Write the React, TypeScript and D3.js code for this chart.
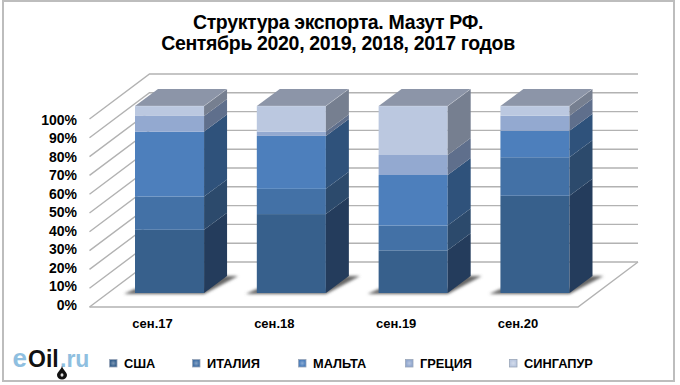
import React from "react";
import * as d3 from "d3";

const categories = ["сен.17", "сен.18", "сен.19", "сен.20"];
const seriesNames = ["США", "ИТАЛИЯ", "МАЛЬТА", "ГРЕЦИЯ", "СИНГАПУР"];
const usa = [33.8, 42.2, 22.8, 52];
const italy = [17.8, 13.5, 13.3, 20.6];
const malta = [34.7, 28.3, 27, 14.2];
const greece = [8.4, 2.3, 10.7, 8];
const singapore = [5.3, 13.7, 26.2, 5.2];
const ticks = [0, 10, 20, 30, 40, 50, 60, 70, 80, 90, 100];
const titleLines = ["Структура экспорта. Мазут РФ.", "Сентябрь 2020, 2019, 2018, 2017 годов"];

const frontColors = ["#37608c", "#4371a6", "#4d7fbc", "#93a9d0", "#bbc8e0"];
const sideColors = ["#243c5c", "#2c4a6c", "#2f527b", "#5f6f8c", "#767f90"];
const topColor = "#8c95a8";
const gridColor = "#b2b2b2";
const font = "'Liberation Sans', Arial, sans-serif";

const values = [usa, italy, malta, greece, singapore];
const rows = categories.map((c, i) => {
  const row: Record<string, number | string> = { cat: c };
  seriesNames.forEach((s, j) => (row[s] = values[j][i]));
  return row;
});
const stacked = d3.stack<any>().keys(seriesNames)(rows as any);

const yAxis = d3.scaleLinear().domain([0, 100]).range([307, 119]);
const yLabel = d3.scaleLinear().domain([0, 100]).range([310, 124.5]);
const yBar = d3.scaleLinear().domain([0, 100]).range([293, 106]);
const x = d3.scaleBand().domain(categories).range([135, 569.5]).paddingInner(0.433).paddingOuter(0);
const floorDx = 60;
const floorDy = -45;
const barDx = 23;
const barDy = -17;
const xLeft = 89.5;
const xFrontRight = 578;
const labelShift = -17;

const legendX = [109, 192, 298, 405, 509];

export default function App() {
  const bw = x.bandwidth();
  return (
    <svg
      width={680}
      height={385}
      viewBox="0 0 680 385"
      style={{ position: "fixed", left: 0, top: 0, display: "block", background: "#fff" }}
      fontFamily={font}
    >
      <defs>
        <filter id="blur" x="-30%" y="-50%" width="160%" height="200%">
          <feGaussianBlur stdDeviation="1.5" />
        </filter>
        <radialGradient id="legendGlow">
          <stop offset="0%" stopColor="#fff" stopOpacity={0.35} />
          <stop offset="100%" stopColor="#fff" stopOpacity={0} />
        </radialGradient>
      </defs>
      <rect x={3} y={1} width={671} height={380} fill="#fff" stroke="#bdbdbd" strokeWidth={2} />

      {titleLines.map((t, i) => (
        <text key={t} x={338} y={29 + i * 20.5} textAnchor="middle" fontSize={19.5} fontWeight="bold" fill="#000" letterSpacing={-0.34}>
          {t}
        </text>
      ))}

      {/* floor */}
      <path
        d={`M${xLeft},${yAxis(0)}L${xFrontRight},${yAxis(0)}L${xFrontRight + floorDx},${yAxis(0) + floorDy}`}
        fill="none"
        stroke={gridColor}
        strokeWidth={1.4}
      />
      {ticks.map((t) => (
        <path
          key={t}
          d={`M${xLeft},${yAxis(t)}L${xLeft + floorDx},${yAxis(t) + floorDy}L${xFrontRight + floorDx},${yAxis(t) + floorDy}`}
          fill="none"
          stroke={gridColor}
          strokeWidth={1.4}
        />
      ))}
      {ticks.map((t) => (
        <text key={t} x={77} y={yLabel(t)} textAnchor="end" fontSize={14} fontWeight="bold" fill="#000">
          {t}%
        </text>
      ))}

      {/* bar shadows and category labels */}
      {categories.map((c) => {
        const bx = x(c)!;
        return (
          <g key={c}>
            <path
              d={`M${bx - 11},${yBar(0) + 1}L${bx + bw},${yBar(0) + 1}L${bx + bw + barDx + 11},${yBar(0) + barDy}L${bx + bw + barDx - 6},${yBar(0) + barDy}L${bx + bw},${yBar(0) - 4}L${bx},${yBar(0) - 4}Z`}
              fill="#666"
              filter="url(#blur)"
            />
            <text x={bx + bw / 2 + labelShift} y={328} textAnchor="middle" fontSize={13} fontWeight="bold" fill="#000">
              {c}
            </text>
          </g>
        );
      })}
      {stacked.map((layer, j) => (
        <g key={layer.key}>
          {layer.map((d, i) => {
            const cat = categories[i];
            const bx = x(cat)!;
            const y0 = yBar(d[0]);
            const y1 = yBar(d[1]);
            return (
              <g key={cat}>
                <rect x={bx} y={y1} width={bw} height={y0 - y1} fill={frontColors[j]} />
                <path
                  d={`M${bx + bw},${y0}L${bx + bw + barDx},${y0 + barDy}L${bx + bw + barDx},${y1 + barDy}L${bx + bw},${y1}Z`}
                  fill={sideColors[j]}
                />
              </g>
            );
          })}
        </g>
      ))}
      {categories.map((c) => {
        const bx = x(c)!;
        const top = yBar(100);
        return (
          <g key={c}>
            <path
              d={`M${bx},${top}L${bx + barDx},${top + barDy}L${bx + bw + barDx},${top + barDy}L${bx + bw},${top}Z`}
              fill={topColor}
            />
            <path
              d={`M${bx},${top}L${bx + bw},${top}L${bx + bw + barDx},${top + barDy}`}
              fill="none"
              stroke="#fff"
              strokeOpacity={0.22}
              strokeWidth={1}
            />
          </g>
        );
      })}

      {/* legend */}
      {seriesNames.map((s, j) => (
        <g key={s}>
          <rect x={legendX[j] + 0.5} y={359.5} width={7.5} height={7.5} fill={frontColors[j]} stroke="#9aa6b8" strokeWidth={0.8} />
          <rect x={legendX[j] + 1} y={360} width={6.5} height={6.5} fill="url(#legendGlow)" />
          <text x={legendX[j] + 15} y={368} fontSize={12.8} fontWeight="bold" fill="#000">
            {s}
          </text>
        </g>
      ))}

      {/* logo */}
      <text y={367} fontSize={23} fontWeight="bold">
        <tspan x={12.5} fill="#8fbfe0" fontSize={26}>e</tspan>
        <tspan x={28} fill="#111">Oil</tspan>
        <tspan x={60} fill="#8fbfe0">.ru</tspan>
      </text>
      <path d="M62,366 C63,370 67,372 67,375 A5,4.5 0 1 1 57,375 C57,372 61,370 62,366Z" fill="#111" />
      <ellipse cx={62} cy={375} rx={1.5} ry={1.8} fill="#ddd" />
    </svg>
  );
}
